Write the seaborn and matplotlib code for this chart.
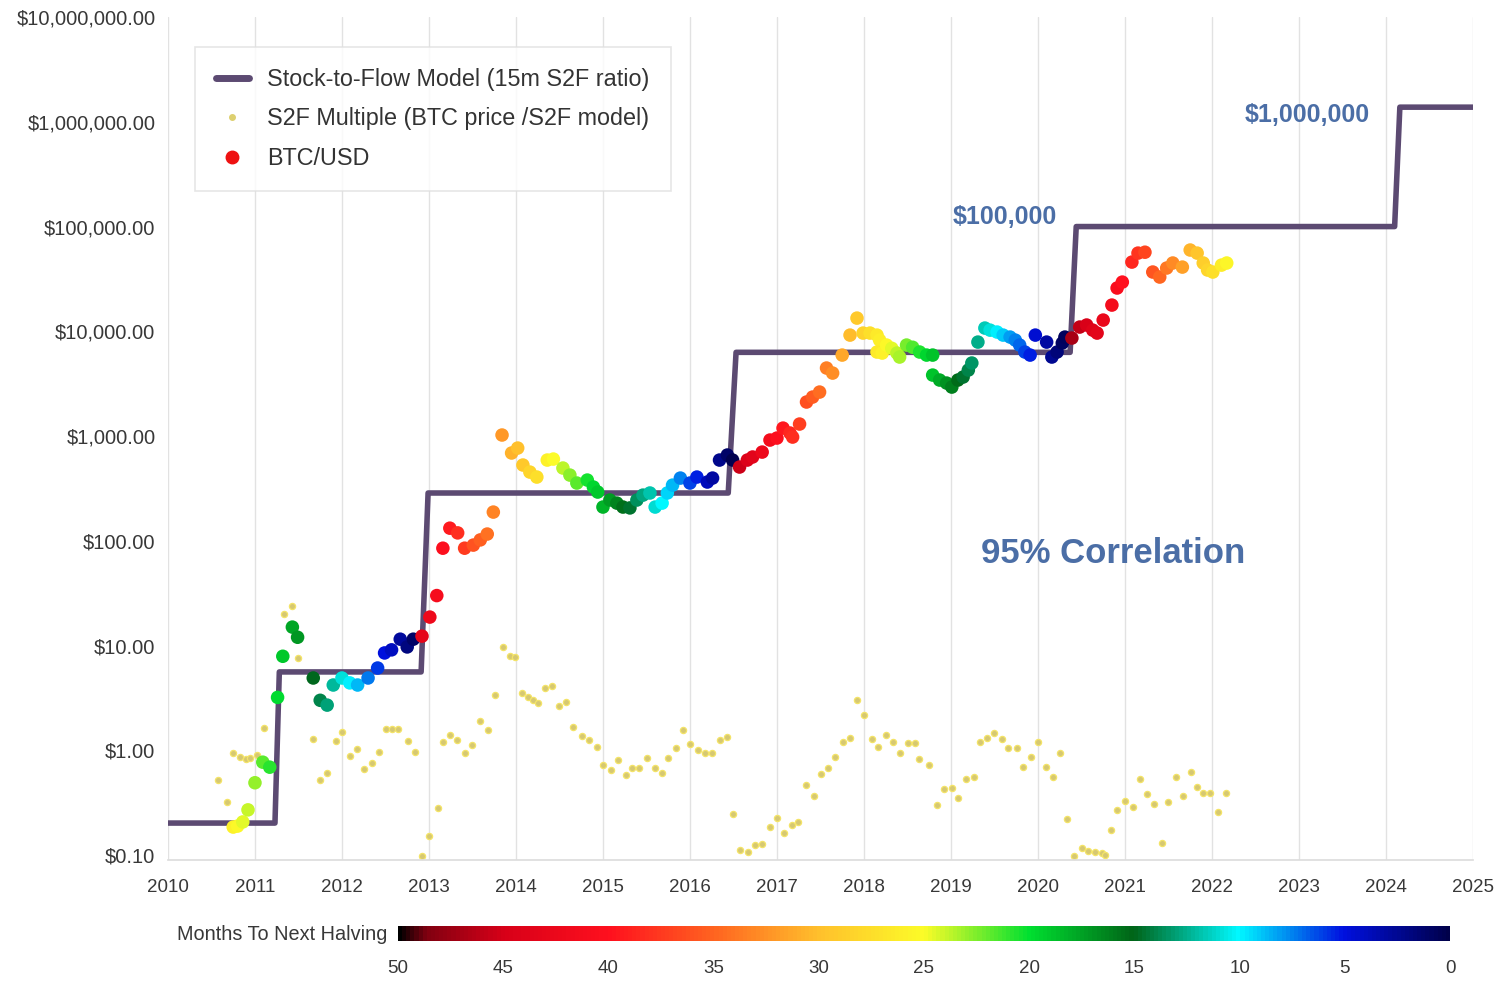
import numpy as np
import pandas as pd
import seaborn as sns
import matplotlib.pyplot as plt
from matplotlib.colors import LinearSegmentedColormap, Normalize
from matplotlib.cm import ScalarMappable
from matplotlib.lines import Line2D
from matplotlib.ticker import FixedLocator, FuncFormatter

# Stock-to-Flow model (step line)
s2f_year = [2010.0, 2011.23, 2011.28, 2012.91, 2012.99, 2016.44, 2016.53,
            2020.37, 2020.44, 2024.10, 2024.16, 2025.0]
s2f_price = [0.202, 0.202, 5.6, 5.6, 286, 286, 6300, 6300,
             100000, 100000, 1380000, 1380000]

# Halving dates (decimal years), used for the colour of each BTC point
halvings = [2012.91, 2016.52, 2020.36, 2024.30]

# BTC/USD price points
btc_year = [
    2010.75, 2010.80, 2010.86, 2010.92, 2011.00, 2011.09, 2011.17, 2011.26, 2011.32, 2011.43,
    2011.49, 2011.67, 2011.75, 2011.83, 2011.90, 2012.00, 2012.09, 2012.18, 2012.30, 2012.41,
    2012.49, 2012.57, 2012.67, 2012.75, 2012.82, 2012.92, 2013.01, 2013.09, 2013.16, 2013.24,
    2013.33, 2013.41, 2013.51, 2013.59, 2013.67, 2013.74, 2013.84, 2013.95, 2014.02, 2014.08,
    2014.16, 2014.24, 2014.36, 2014.43, 2014.54, 2014.62, 2014.70, 2014.82, 2014.89, 2014.94,
    2015.00, 2015.08, 2015.16, 2015.23, 2015.31, 2015.39, 2015.46, 2015.54, 2015.60, 2015.68,
    2015.74, 2015.80, 2015.89, 2016.00, 2016.08, 2016.20, 2016.26, 2016.34, 2016.43, 2016.49,
    2016.57, 2016.66, 2016.72, 2016.83, 2016.92, 2017.00, 2017.07, 2017.15, 2017.18, 2017.26,
    2017.34, 2017.41, 2017.49, 2017.57, 2017.64, 2017.75, 2017.84, 2017.92, 2017.99, 2018.07,
    2018.15, 2018.18, 2018.15, 2018.21, 2018.26, 2018.32, 2018.38, 2018.41, 2018.49, 2018.56,
    2018.64, 2018.72, 2018.79, 2018.79, 2018.87, 2018.95, 2019.01, 2019.08, 2019.14, 2019.20,
    2019.24, 2019.31, 2019.39, 2019.45, 2019.53, 2019.60, 2019.68, 2019.74, 2019.79, 2019.85,
    2019.91, 2019.97, 2020.10, 2020.16, 2020.22, 2020.28, 2020.31, 2020.39, 2020.48, 2020.56,
    2020.63, 2020.68, 2020.75, 2020.85, 2020.91, 2020.97, 2021.08, 2021.15, 2021.23, 2021.32,
    2021.40, 2021.48, 2021.55, 2021.66, 2021.75, 2021.83, 2021.90, 2021.95, 2022.01, 2022.11,
    2022.17,
]
btc_price = [
    0.185, 0.189, 0.207, 0.27, 0.49, 0.77, 0.69, 3.2, 7.9, 15,
    12, 4.9, 3.0, 2.7, 4.2, 4.9, 4.4, 4.2, 4.9, 6.1,
    8.5, 9.1, 11.5, 9.7, 11.5, 12.3, 18.7, 30, 85, 132,
    119, 85, 91, 102, 116, 188, 1023, 689, 768, 529,
    453, 406, 590, 603, 495, 424, 356, 380, 326, 292,
    210, 245, 229, 210, 206, 245, 273, 286, 210, 229,
    286, 340, 397, 356, 406, 364, 397, 590, 659, 590,
    506, 590, 631, 703, 916, 957, 1191, 1069, 978, 1302,
    2113, 2356, 2630, 4460, 3992, 5930, 9200, 13370, 9620, 9620,
    9200, 8240, 6340, 6200, 7390, 6880, 6200, 5680, 7390, 7040,
    6340, 5930, 5930, 3820, 3425, 3205, 2935, 3425, 3660, 4266,
    4980, 7890, 10740, 10260, 9840, 9200, 8810, 8240, 7390, 6340,
    5930, 9200, 7890, 5680, 6340, 7730, 8810, 8620, 10980, 11480,
    10260, 9620, 12800, 17800, 25900, 29500, 45800, 55800, 56900, 36800,
    32960, 40180, 44870, 41030, 59700, 55800, 44870, 38460, 36800, 42850,
    44870,
]

# S2F multiple (BTC price / S2F model)
mult_year = [
    2010.57, 2010.68, 2010.75, 2010.83, 2010.90, 2010.94, 2011.02, 2011.10, 2011.33, 2011.43,
    2011.49, 2011.67, 2011.75, 2011.83, 2011.93, 2012.00, 2012.09, 2012.17, 2012.25, 2012.34,
    2012.43, 2012.51, 2012.57, 2012.64, 2012.76, 2012.84, 2012.92, 2013.00, 2013.10, 2013.16,
    2013.24, 2013.32, 2013.41, 2013.49, 2013.59, 2013.68, 2013.76, 2013.85, 2013.93, 2013.99,
    2014.07, 2014.14, 2014.20, 2014.25, 2014.33, 2014.41, 2014.49, 2014.57, 2014.66, 2014.76,
    2014.84, 2014.93, 2015.00, 2015.09, 2015.17, 2015.26, 2015.33, 2015.41, 2015.51, 2015.60,
    2015.68, 2015.75, 2015.84, 2015.92, 2016.00, 2016.09, 2016.17, 2016.25, 2016.34, 2016.43,
    2016.49, 2016.57, 2016.67, 2016.75, 2016.83, 2016.92, 2017.00, 2017.08, 2017.17, 2017.24,
    2017.33, 2017.43, 2017.51, 2017.59, 2017.67, 2017.76, 2017.84, 2017.92, 2018.00, 2018.09,
    2018.16, 2018.25, 2018.33, 2018.41, 2018.51, 2018.59, 2018.63, 2018.75, 2018.84, 2018.92,
    2019.01, 2019.08, 2019.17, 2019.26, 2019.33, 2019.41, 2019.49, 2019.59, 2019.66, 2019.76,
    2019.83, 2019.92, 2020.00, 2020.09, 2020.17, 2020.25, 2020.33, 2020.41, 2020.51, 2020.57,
    2020.66, 2020.74, 2020.77, 2020.84, 2020.91, 2021.00, 2021.09, 2021.17, 2021.25, 2021.33,
    2021.43, 2021.49, 2021.59, 2021.67, 2021.76, 2021.83, 2021.90, 2021.98, 2022.07, 2022.16,
]
mult_value = [
    0.52, 0.32, 0.94, 0.86, 0.82, 0.84, 0.90, 1.63, 20, 23.8,
    7.6, 1.28, 0.52, 0.61, 1.22, 1.49, 0.88, 1.03, 0.66, 0.76,
    0.96, 1.60, 1.60, 1.60, 1.22, 0.96, 0.098, 0.152, 0.28, 1.20,
    1.40, 1.25, 0.94, 1.12, 1.90, 1.56, 3.37, 9.7, 7.9, 7.8,
    3.52, 3.22, 3.02, 2.83, 3.93, 4.10, 2.64, 2.89, 1.67, 1.37,
    1.25, 1.07, 0.72, 0.65, 0.81, 0.58, 0.68, 0.68, 0.84, 0.68,
    0.61, 0.84, 1.05, 1.56, 1.15, 1.00, 0.94, 0.94, 1.25, 1.34,
    0.246, 0.112, 0.107, 0.124, 0.127, 0.185, 0.225, 0.162, 0.193, 0.207,
    0.466, 0.366, 0.593, 0.68, 0.86, 1.20, 1.31, 3.02, 2.17, 1.28,
    1.07, 1.40, 1.20, 0.94, 1.17, 1.17, 0.82, 0.72, 0.30, 0.43,
    0.44, 0.35, 0.53, 0.55, 1.20, 1.31, 1.46, 1.28, 1.05, 1.05,
    0.69, 0.86, 1.20, 0.69, 0.55, 0.94, 0.22, 0.098, 0.116, 0.11,
    0.106, 0.104, 0.101, 0.173, 0.27, 0.33, 0.29, 0.53, 0.38, 0.31,
    0.13, 0.32, 0.55, 0.37, 0.62, 0.45, 0.39, 0.39, 0.26, 0.39,
]

y_ticks = [0.1, 1, 10, 100, 1000, 10000, 100000, 1000000, 10000000]
x_ticks = list(range(2010, 2026))
cbar_ticks = [50, 45, 40, 35, 30, 25, 20, 15, 10, 5, 0]

# months to next halving for each BTC point
btc = pd.DataFrame({'year': btc_year, 'price': btc_price})
btc['months'] = [(min(h for h in halvings if h > y) - y) * 12 for y in btc['year']]

halving_cmap = LinearSegmentedColormap.from_list('halving', [
    (0.0, '#00004a'), (0.1, '#0010e0'), (0.2, '#00f8ff'), (0.3, '#006418'),
    (0.4, '#00e030'), (0.5, '#fcfc28'), (0.6, '#ffc02c'), (0.7, '#ff6420'),
    (0.8, '#ff101e'), (0.9, '#d80018'), (0.975, '#800010'), (1.0, '#000000')])
norm = Normalize(0, 50)

sns.set_theme(style='white')
plt.rcParams['font.family'] = ['Liberation Sans', 'DejaVu Sans']

fig = plt.figure(figsize=(15.01, 9.81), dpi=100)
ax = fig.add_axes([0.1119, 0.1233, 0.8694, 0.8593])

line_color = '#5c4a72'
sns.scatterplot(x=mult_year, y=mult_value, color='#d6c872', edgecolor='#f4e468',
                linewidth=0.9, s=20, ax=ax, zorder=1)
sns.lineplot(x=s2f_year, y=s2f_price, sort=False, estimator=None, color=line_color,
             lw=4, ax=ax, zorder=2)
sns.scatterplot(data=btc, x='year', y='price', hue='months', palette=halving_cmap,
                hue_norm=norm, s=95, linewidth=0, legend=False, ax=ax, zorder=3)

ax.set_yscale('log')
ax.set_ylim(0.0896, 1e7)
ax.set_xlim(2010, 2025)
ax.yaxis.set_major_locator(FixedLocator(y_ticks))
ax.yaxis.set_minor_locator(FixedLocator([]))
ax.yaxis.set_major_formatter(FuncFormatter(lambda v, p: '${:,.2f}'.format(v)))
ax.set_xticks(x_ticks)
ax.set_xlabel('')
ax.set_ylabel('')
ax.grid(axis='x', color='#e2e2e2', lw=1)
ax.grid(axis='y', visible=False)
for side in ['left', 'top', 'right']:
    ax.spines[side].set_visible(False)
ax.spines['bottom'].set_color('#dddddd')
ax.tick_params(axis='y', length=0, pad=9, labelsize=14.5, labelcolor='#383838')
ax.tick_params(axis='x', length=0, pad=14, labelsize=13.5, labelcolor='#383838')

# annotations
txt_color = '#4b6ea6'
ax.text(2019.62, 1.23e5, '$100,000', ha='center', va='center', fontsize=18,
        fontweight='bold', color=txt_color)
ax.text(2023.10, 1.16e6, '$1,000,000', ha='center', va='center', fontsize=18,
        fontweight='bold', color=txt_color)
ax.text(2020.86, 76, '95% Correlation', ha='center', va='center', fontsize=25,
        fontweight='bold', color=txt_color)

# legend
handles = [
    Line2D([0], [0], color=line_color, lw=5, solid_capstyle='round'),
    Line2D([0], [0], marker='o', ls='', color='#ddd070', markersize=4),
    Line2D([0], [0], marker='o', ls='', color='#ee1111', markersize=9),
]
labels = ['Stock-to-Flow Model (15m S2F ratio)', 'S2F Multiple (BTC price /S2F model)', 'BTC/USD']
leg = ax.legend(handles, labels, loc='upper left', bbox_to_anchor=(0.0207, 0.9644),
                borderaxespad=0, fontsize=16.8, frameon=True, fancybox=False,
                edgecolor='#e0e0e0', borderpad=0.9, labelspacing=0.7,
                handlelength=1.4, handletextpad=0.8)
leg.get_frame().set_linewidth(1.2)
for t in leg.get_texts():
    t.set_color('#333333')

# colour bar
cax = fig.add_axes([398 / 1501, 1 - 941 / 981, 1052 / 1501, 15 / 981])
cb = fig.colorbar(ScalarMappable(norm=norm, cmap=halving_cmap), cax=cax, orientation='horizontal')
cb.outline.set_visible(False)
cax.set_xlim(50, 0)
cb.set_ticks(cbar_ticks)
cax.tick_params(length=0, pad=14, labelsize=13.5, labelcolor='#383838')
fig.text(387 / 1501, 1 - 934 / 981, 'Months To Next Halving', ha='right', va='center',
         fontsize=14.3, color='#383838')

fig.savefig('out.png', dpi=100)
